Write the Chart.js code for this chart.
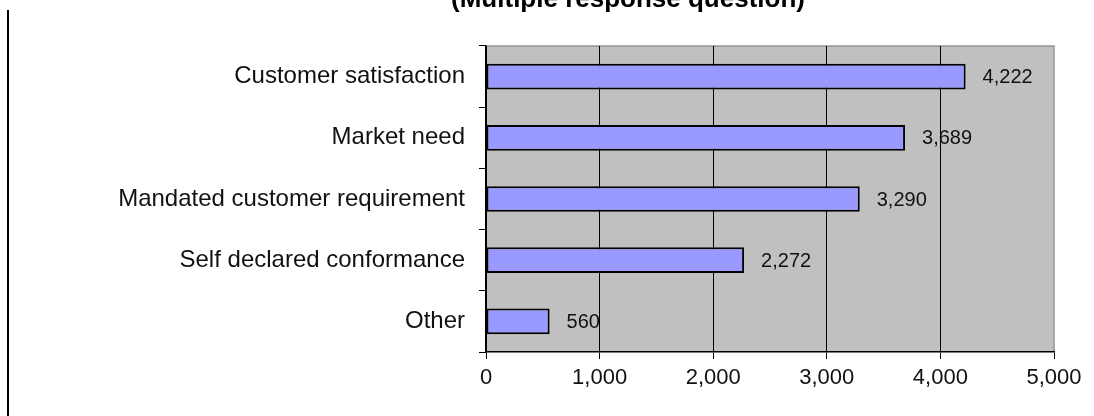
<!DOCTYPE html>
<html>
<head>
<meta charset="utf-8">
<script src="https://cdn.jsdelivr.net/npm/chart.js@4/dist/chart.umd.min.js"></script>
<style>
    body { margin: 0; background: #fff; }
    #wrap { position: relative; width: 1094px; height: 416px; }
    #edge { position: absolute; left: 7px; top: 10px; bottom: 0; border-left: 2px solid #000; }
</style>
</head>
<body>
<div id="wrap">
    <canvas id="reasonsChart" width="1094" height="416"></canvas>
    <div id="edge"></div>
</div>
<script>
const categories = ['Customer satisfaction', 'Market need', 'Mandated customer requirement', 'Self declared conformance', 'Other'];
const responses = [4222, 3689, 3290, 2272, 560];
const xTicks = [0, 1000, 2000, 3000, 4000, 5000];
const titleText = '(Multiple response question)';

const FONT = "'Liberation Sans', Arial, sans-serif";

// gray plot area like the old spreadsheet charts
const plotBackground = {
    id: 'plotBackground',
    beforeDraw(chart) {
        const { ctx, chartArea: a } = chart;
        ctx.save();
        ctx.fillStyle = '#c0c0c0';
        ctx.fillRect(a.left, a.top, a.right - a.left, a.bottom - a.top);
        ctx.strokeStyle = '#959595';
        ctx.lineWidth = 1.5;
        ctx.beginPath();
        ctx.moveTo(a.left, a.top);
        ctx.lineTo(a.right, a.top);
        ctx.lineTo(a.right, a.bottom);
        ctx.stroke();
        ctx.restore();
    }
};

// title is cut off at the top of the picture
const cutTitle = {
    id: 'cutTitle',
    afterDraw(chart) {
        const ctx = chart.ctx;
        ctx.save();
        ctx.font = 'bold 26px ' + FONT;
        ctx.fillStyle = '#000';
        ctx.textAlign = 'center';
        ctx.textBaseline = 'alphabetic';
        ctx.fillText(titleText, 628, 7);
        ctx.restore();
    }
};

const valueLabels = {
    id: 'valueLabels',
    afterDatasetsDraw(chart) {
        const ctx = chart.ctx;
        const meta = chart.getDatasetMeta(0);
        ctx.save();
        ctx.font = '20px ' + FONT;
        ctx.fillStyle = '#111';
        ctx.textAlign = 'left';
        ctx.textBaseline = 'middle';
        meta.data.forEach((bar, i) => {
            ctx.fillText(responses[i].toLocaleString('en-US'), bar.x + 17, bar.y + 1);
        });
        ctx.restore();
    }
};

const ctx = document.getElementById('reasonsChart').getContext('2d');
const reasonsChart = new Chart(ctx, {
    type: 'bar',
    data: {
        labels: categories,
        datasets: [{
            data: responses,
            backgroundColor: '#9999ff',
            borderColor: '#000',
            borderWidth: 2,
            borderSkipped: false,
            categoryPercentage: 1,
            barPercentage: 0.42
        }]
    },
    options: {
        indexAxis: 'y',
        responsive: false,
        devicePixelRatio: 1,
        animation: false,
        layout: {
            padding: { left: 0, top: 46, right: 40, bottom: 0 }
        },
        plugins: {
            legend: { display: false },
            tooltip: { enabled: false },
            title: { display: false }
        },
        scales: {
            x: {
                min: 0,
                max: 5000,
                afterBuildTicks: scale => {
                    scale.ticks = xTicks.map(v => ({ value: v }));
                },
                afterFit: scale => { scale.height = 64; },
                grid: {
                    color: c => (c.tick && c.tick.value === 5000) ? 'rgba(0,0,0,0)' : '#000',
                    tickColor: '#000',
                    tickLength: 7,
                    lineWidth: 1
                },
                border: { color: '#000', width: 1.5 },
                ticks: {
                    padding: 6,
                    color: '#111',
                    font: { family: FONT, size: 22 },
                    callback: v => v.toLocaleString('en-US')
                }
            },
            y: {
                afterFit: scale => { scale.width = 486; },
                grid: {
                    offset: true,
                    drawOnChartArea: false,
                    tickColor: '#000',
                    tickLength: 7
                },
                border: { color: '#000', width: 1.5 },
                ticks: {
                    padding: 14,
                    color: '#111',
                    font: { family: FONT, size: 24 }
                }
            }
        }
    },
    plugins: [plotBackground, valueLabels, cutTitle]
});
</script>
</body>
</html>
